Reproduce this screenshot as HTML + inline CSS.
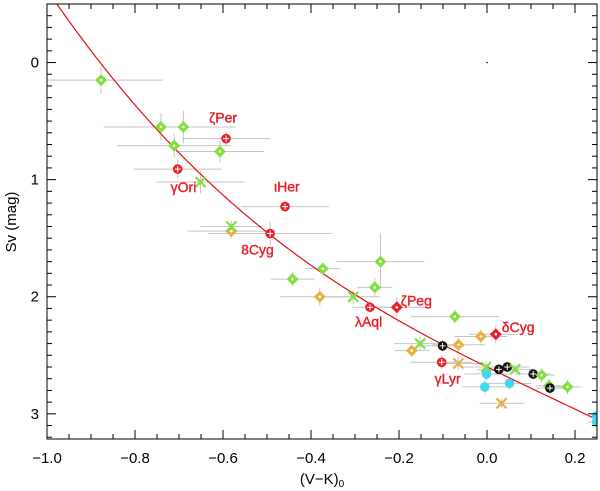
<!DOCTYPE html>
<html><head><meta charset="utf-8"><style>
body{margin:0;background:#fff;}
svg{display:block;font-family:"Liberation Sans",sans-serif;}
</style></head><body>
<svg id="chart" width="600" height="491" viewBox="0 0 600 491" xmlns="http://www.w3.org/2000/svg">
<g id="bars"></g>
<g id="curve"></g>
<g id="pts"></g>
<g id="axes"></g>
<g id="labels"></g>
<text x="322" y="484" font-size="15" text-anchor="middle">(V−K)<tspan font-size="10" dy="3">0</tspan></text>
<text transform="translate(16,222) rotate(-90)" font-size="15" text-anchor="middle">Sv (mag)</text>
</svg>
<script>
const xs=[-0.877,-0.741,-0.690,-0.711,-0.607,-0.593,-0.703,-0.651,-0.459,-0.493,-0.581,-0.581,-0.373,-0.442,-0.380,-0.242,-0.255,-0.304,-0.266,-0.205,-0.073,-0.014,0.020,-0.152,-0.101,-0.065,-0.171,-0.103,-0.065,-0.002,0.027,0.046,0.064,-0.001,-0.005,0.051,0.105,0.124,0.141,0.143,0.183,0.033,0.249,0.249];
const ys=[0.15,0.55,0.55,0.71,0.76,0.65,0.91,1.02,1.23,1.46,1.44,1.40,1.76,1.85,2.0,1.70,1.92,2.0,2.09,2.09,2.17,2.34,2.32,2.40,2.42,2.41,2.46,2.56,2.57,2.60,2.62,2.60,2.62,2.66,2.77,2.74,2.66,2.67,2.76,2.78,2.77,2.91,3.02,3.07];
const kinds=['gd','gd','gd','gd','gd','r','r','gx','r','r','od','gx','gd','gd','od','gd','gd','gx','r','rd','gd','od','rd','gx','k','od','od','r','ox','gx','k','k','gx','c','c','c','k','gd','gd','k','gd','ox','c','c'];
const xerr=[0.14,0.13,0.12,0.13,0.1,0.1,0.1,0.1,0.1,0.14,0.1,0.07,0.04,0.05,0.09,0.1,0.04,0.06,0.04,0.08,0.1,0.06,0.06,0.06,0.05,0.06,0.04,0.07,0.05,0.05,0.05,0.05,0.04,0.05,0.05,0.05,0.04,0.03,0.03,0.03,0.03,0.05,0.02,0.02];
const yerr=[0.12,0.12,0.14,0.1,0.09,0.06,0.08,0.1,0.05,0.1,0.06,0.05,0.05,0.06,0.08,0.24,0.08,0.06,0.05,0.09,0.06,0.06,0.08,0.06,0.05,0.06,0.04,0.06,0.05,0.05,0.05,0.05,0.04,0.05,0.06,0.05,0.04,0.06,0.06,0.06,0.06,0.04,0.02,0.02];
const starNames=['ζPer','γOri','ιHer','8Cyg','λAql','ζPeg','δCyg','γLyr'];
const starX=[-0.593,-0.703,-0.459,-0.493,-0.266,-0.205,0.020,-0.103];
const starY=[0.65,0.91,1.23,1.46,2.09,2.09,2.32,2.56];
const xTicks=[-1.0,-0.8,-0.6,-0.4,-0.2,0.0,0.2];
const xTickLabels=['−1.0','−0.8','−0.6','−0.4','−0.2','0.0','0.2'];
const yTicks=[0,1,2,3];
const fitCoef=[2.6,1.849,-0.431,0.943];

const L=47,R=597,T=4,B=439,X0=-1.0,X1=0.25,Y0=-0.5,Y1=3.215;
const sx=v=>L+(v-X0)/(X1-X0)*(R-L);
const sy=v=>T+(v-Y0)/(Y1-Y0)*(B-T);
const NS='http://www.w3.org/2000/svg';
function mk(tag,attrs,parent){const e=document.createElementNS(NS,tag);for(const k in attrs)e.setAttribute(k,attrs[k]);parent.appendChild(e);return e;}
const svg=document.getElementById('chart');
const defs=mk('defs',{},svg);const cp=mk('clipPath',{id:'clip'},defs);mk('rect',{x:L,y:T,width:R-L,height:B-T},cp);
const gb=document.getElementById('bars');gb.setAttribute('clip-path','url(#clip)');
const gp=document.getElementById('pts');gp.setAttribute('clip-path','url(#clip)');
const gc=document.getElementById('curve');gc.setAttribute('clip-path','url(#clip)');
for(let i=0;i<xs.length;i++){
 const l1=mk('line',{x1:sx(xs[i]-xerr[i]),x2:sx(xs[i]+xerr[i]),y1:sy(ys[i]),y2:sy(ys[i]),stroke:'#c4c4c4','stroke-width':1},gb);
 
 
 const l2=mk('line',{x1:sx(xs[i]),x2:sx(xs[i]),y1:sy(ys[i]-yerr[i]),y2:sy(ys[i]+yerr[i]),stroke:'#c4c4c4','stroke-width':1},gb);
 
 
}
let d='';
for(let v=-1.0;v<=0.251;v+=0.005){const y=fitCoef[0]+fitCoef[1]*v+fitCoef[2]*v*v+fitCoef[3]*v*v*v;d+=(d?'L':'M')+sx(v).toFixed(1)+','+sy(y).toFixed(1);}
const fp=mk('path',{d:d,fill:'none',stroke:'#e01010','stroke-width':1.2},gc);


const col={g:'#80e040',r:'#e8202a',o:'#e8b040',k:'#111111',c:'#40d8f0'};
for(let i=0;i<xs.length;i++){
 const x=sx(xs[i]),y=sy(ys[i]),k=kinds[i],c=col[k[0]];
 let e;
 if(k[1]==='d'){e=mk('polygon',{points:`${x},${y-6} ${x+6},${y} ${x},${y+6} ${x-6},${y}`,fill:c},gp);mk('circle',{cx:x,cy:y,r:1.3,fill:'#fff'},gp);}
 else if(k[1]==='x'){e=mk('path',{d:`M${x-5},${y-5}L${x+5},${y+5}M${x-5},${y+5}L${x+5},${y-5}`,stroke:c,'stroke-width':2.2},gp);}
 else{e=mk('circle',{cx:x,cy:y,r:4.8,fill:c},gp);if(k==='r'||k==='k')mk('path',{d:`M${x-3},${y}L${x+3},${y}M${x},${y-3}L${x},${y+3}`,stroke:'#fff','stroke-width':1},gp);}
 
 
}
mk('circle',{cx:sx(0),cy:sy(0),r:0.8,fill:'#000'},gp);
const offs=[[-17,-16],[-7,23],[-11,-15],[-29,21],[-15,19],[4,-2],[6,-2],[-7,21]];
const gl=document.getElementById('labels');
for(let i=0;i<starNames.length;i++){
 const t=mk('text',{x:sx(starX[i])+offs[i][0],y:sy(starY[i])+offs[i][1],fill:'#e8202a',stroke:'#e8202a','stroke-width':0.4,'font-size':14},gl);
 t.textContent=starNames[i];
 
 
}
const ga=document.getElementById('axes');
const fr=mk('rect',{x:L,y:T,width:R-L,height:B-T,fill:'none',stroke:'#000','stroke-width':1},ga);


for(let v=-1.0;v<=0.2501;v+=0.05){const x=sx(v),maj=Math.abs(v*5-Math.round(v*5))<1e-6,len=maj?9:5;
 mk('line',{x1:x,x2:x,y1:B,y2:B-len,stroke:'#000'},ga);mk('line',{x1:x,x2:x,y1:T,y2:T+len,stroke:'#000'},ga);}
for(let v=-0.5;v<=3.21;v+=0.1){const y=sy(v),maj=Math.abs(v-Math.round(v))<1e-6,len=maj?9:5;
 mk('line',{x1:L,x2:L+len,y1:y,y2:y,stroke:'#000'},ga);mk('line',{x1:R,x2:R-len,y1:y,y2:y,stroke:'#000'},ga);}
xTicks.forEach((v,i)=>{const t=mk('text',{x:sx(v),y:B+24,'font-size':15,'text-anchor':'middle'},ga);t.textContent=xTickLabels[i];
 
 });
yTicks.forEach(v=>{const t=mk('text',{x:L-8,y:sy(v)+5,'font-size':15,'text-anchor':'end'},ga);t.textContent=String(v);
 
 });
</script>
</body></html>
